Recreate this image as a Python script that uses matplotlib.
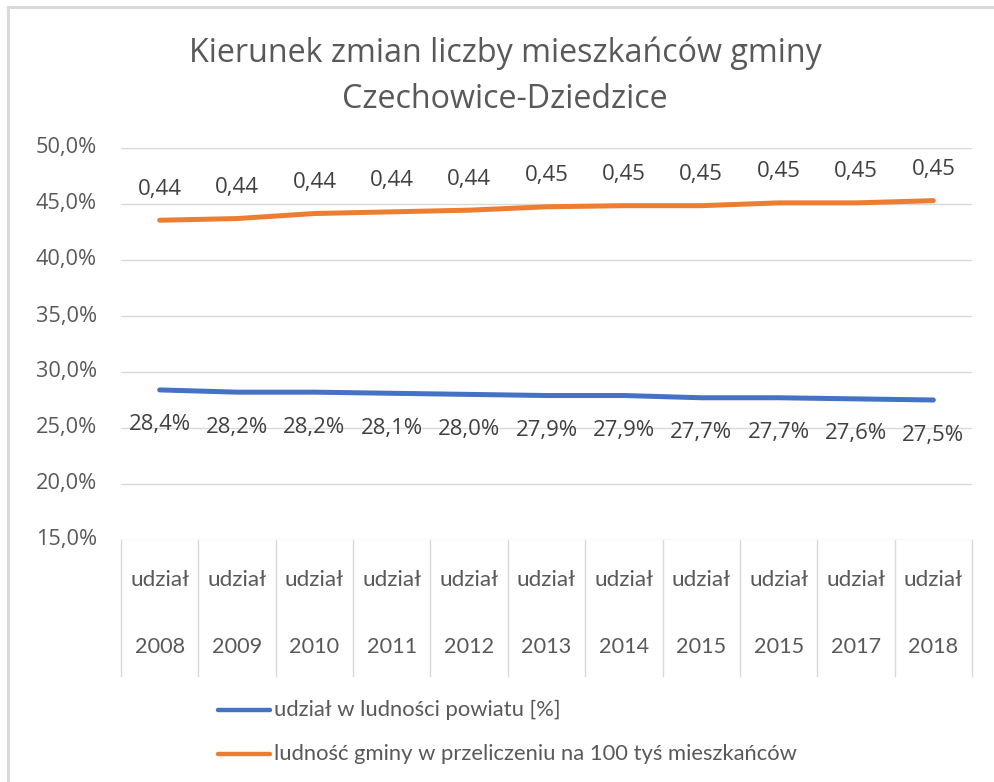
import matplotlib
matplotlib.use("Agg")
import matplotlib.pyplot as plt
from matplotlib.lines import Line2D
import matplotlib.transforms as mtransforms

# ---- data ----
years = ["2008", "2009", "2010", "2011", "2012", "2013", "2014", "2015", "2015", "2017", "2018"]
subcat = ["udział"] * len(years)
share_pct = [28.4, 28.2, 28.2, 28.1, 28.0, 27.9, 27.9, 27.7, 27.7, 27.6, 27.5]
per100k = [43.55, 43.7, 44.15, 44.3, 44.45, 44.75, 44.85, 44.85, 45.1, 45.1, 45.3]
series_names = ["udział w ludności powiatu [%]",
                "ludność gminy w przeliczeniu na 100 tyś mieszkańców"]
title_lines = ["Kierunek zmian liczby mieszkańców gminy", "Czechowice-Dziedzice"]
yticks = [15, 20, 25, 30, 35, 40, 45, 50]

W, H = 994, 782
BLUE = "#4472C4"
ORANGE = "#ED7D31"
TXT = "#595959"
GRID = "#D9D9D9"

fig = plt.figure(figsize=(W / 100, H / 100), dpi=100)
renderer = fig.canvas.get_renderer()


def fx(x):
    return x / W


def fy(y):
    return 1 - y / H


def fit(text, target, **kw):
    t = fig.text(0, 0, text, fontsize=20, **kw)
    w = t.get_window_extent(renderer).width
    t.remove()
    return 20 * target / w


# frame (left/top edges visible)
fig.add_artist(Line2D([fx(8), fx(8)], [fy(7), fy(800)], color=GRID, lw=2.2,
                      transform=fig.transFigure))
fig.add_artist(Line2D([fx(8), fx(1000)], [fy(7), fy(7)], color=GRID, lw=2.2,
                      transform=fig.transFigure))

# axes
L, R, T, B = 121, 972, 148, 540
ax = fig.add_axes([fx(L), fy(B), fx(R - L), (B - T) / H])
x = list(range(len(years)))
ax.set_xlim(-0.5, len(years) - 0.5)
ax.set_ylim(15, 50)
for s in ax.spines.values():
    s.set_visible(False)
ax.set_xticks([])
ax.set_yticks(yticks)
ax.tick_params(axis="y", length=0, pad=0)
ax.set_yticklabels([])
for yv in yticks:
    ax.axhline(yv, color=GRID, lw=1.0, zorder=0)

# y tick labels
tick_font = "Open Sans"
ts = fit("50,0%", 61, family=tick_font)
for yv in yticks:
    ypix = B - (yv - 15) / 35 * (B - T)
    fig.text(fx(97), fy(ypix), f"{yv:.1f}%".replace(".", ","), fontsize=ts,
             family=tick_font, color=TXT, ha="right", va="center")

# lines
ax.plot(x, share_pct, color=BLUE, lw=3.6, solid_capstyle="round", zorder=3)
ax.plot(x, per100k, color=ORANGE, lw=3.6, solid_capstyle="round", zorder=3)

# data labels
ls_o = fit("0,44", 44, family=tick_font)
ls_b = fit("28,4%", 62, family=tick_font)
for xi, v in zip(x, per100k):
    ax.annotate(f"{v / 100:.2f}".replace(".", ","), (xi, v), xytext=(0, 31),
                textcoords="offset pixels", ha="center", va="center",
                fontsize=ls_o, family=tick_font, color="#404040")
for xi, v in zip(x, share_pct):
    ax.annotate(f"{v:.1f}%".replace(".", ","), (xi, v), xytext=(0, -35),
                textcoords="offset pixels", ha="center", va="center",
                fontsize=ls_b, family=tick_font, color="#404040")

# category table
cat_font = "Lato"
cs1 = fit("udział", 59, family=cat_font)
cs2 = fit("2008", 50, family=cat_font)
trans = mtransforms.blended_transform_factory(ax.transData, fig.transFigure)
for i in range(len(years) + 1):
    xb = i - 0.5
    ax.add_artist(Line2D([xb, xb], [fy(B), fy(676)], color=GRID, lw=1.0,
                         transform=trans, clip_on=False))
for xi, s, yr in zip(x, subcat, years):
    ax.text(xi, fy(580), s, transform=trans, ha="center", va="center",
            fontsize=cs1, family=cat_font, color=TXT)
    ax.text(xi, fy(647), yr, transform=trans, ha="center", va="center",
            fontsize=cs2, family=cat_font, color=TXT)

# legend
lg1 = fit(series_names[0], 287, family=cat_font)
for name, col, yy in zip(series_names, [BLUE, ORANGE], [710, 754]):
    fig.add_artist(Line2D([fx(218), fx(270)], [fy(yy), fy(yy)], color=col, lw=3.2,
                          solid_capstyle="round", transform=fig.transFigure))
    fig.text(fx(274), fy(yy), name, fontsize=lg1, family=cat_font, color=TXT,
             ha="left", va="center")

# title
title_font = "Open Sans"
tsz = fit(title_lines[0], 633, family=title_font)
fig.text(fx(505), fy(62), title_lines[0], fontsize=tsz, family=title_font,
         color=TXT, ha="center", va="baseline")
fig.text(fx(505), fy(108), title_lines[1], fontsize=tsz, family=title_font,
         color=TXT, ha="center", va="baseline")

fig.savefig("out.png", dpi=100)
